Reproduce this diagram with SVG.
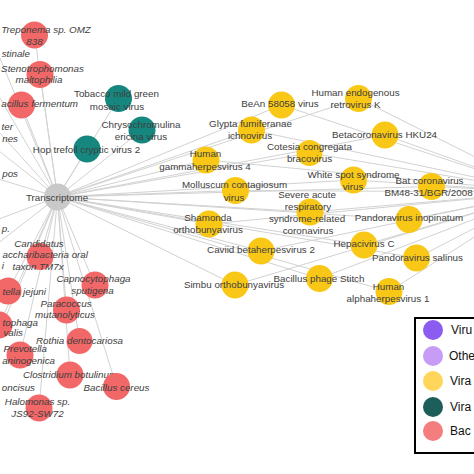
<svg xmlns="http://www.w3.org/2000/svg" width="474" height="474" viewBox="0 0 474 474">
<style>
.e{stroke:#d2d2d2;stroke-width:1;fill:none}
.t{font-family:"Liberation Sans",Arial,sans-serif;font-size:9.8px;fill:#404040;text-anchor:middle}
.i{font-style:italic}
.en{text-anchor:end}
.r{fill:#F26767}
.y{fill:#F9C816}
.g{fill:#15877F}
.lg{font-family:"Liberation Sans",Arial,sans-serif;font-size:12px;fill:#111}
</style>
<rect width="474" height="474" fill="#fff"/>
<g id="edges">
<path class="e" d="M57.5 197L34.5 35M57.5 197L40 74.5M57.5 197L21.5 105M57.5 197L118.5 98.5M57.5 197L142 130M57.5 197L87 149M57.5 197L40 256.5M57.5 197L95 285M57.5 197L8 291M57.5 197L66.5 310M57.5 197L-1 325M57.5 197L20 355M57.5 197L79.5 341M57.5 197L70 375M57.5 197L116.5 386.5M57.5 197L39 408M57.5 197L-25 55M57.5 197L-20 136M57.5 197L-25 172M57.5 197L-25 228M57.5 197L-30 265M57.5 197L-25 388M57.5 197L-20 10M57.5 197L-30 100"/>
<path class="e" d="M57.5 197L281.5 105M57.5 197L251.5 130M57.5 197L206 160M57.5 197L309.5 153M57.5 197L235.5 190.5M57.5 197L310 212M57.5 197L358.5 98.5M57.5 197L385 135M57.5 197L353.5 180M57.5 197L431.5 186.5M57.5 197L409 219.5M57.5 197L364 245M57.5 197L416.5 258M57.5 197L319.5 278.5M57.5 197L389 291.5M57.5 197L209 224M57.5 197L261 251M57.5 197L235 285"/>
<path class="e" d="M545 192L281.5 105M545 192L251.5 130M545 192L206 160M545 192L309.5 153M545 192L235.5 190.5M545 192L310 212M545 192L358.5 98.5M545 192L385 135M545 192L353.5 180M545 192L431.5 186.5M545 192L409 219.5M545 192L364 245M545 192L416.5 258M545 192L319.5 278.5M545 192L389 291.5M545 192L209 224M545 192L261 251M545 192L235 285"/>
</g>
<g id="n-offscreen-left">
<text class="t i en" x="30" y="57">stinale</text>
<text class="t i en" x="13" y="130">ter</text>
<text class="t i en" x="18" y="142">nes</text>
<text class="t i en" x="18" y="177">pos</text>
<text class="t i en" x="10" y="232">p.</text>
<text class="t i en" x="4" y="269">i</text>
<text class="t i en" x="35" y="391">oncisus</text>
</g>
<g id="n-treponema"><circle class="r" cx="34.5" cy="35" r="13.5"/><text class="t i" x="46" y="33">Treponema sp. OMZ</text><text class="t i" x="34.5" y="45">838</text></g>
<g id="n-stenotrophomonas"><circle class="r" cx="40" cy="74.5" r="13.5"/><text class="t i" x="42.5" y="72">Stenotrophomonas</text><text class="t i" x="39" y="83">maltophilia</text></g>
<g id="n-bacillus-fermentum"><circle class="r" cx="21.5" cy="105" r="13.5"/><text class="t i en" x="78" y="107">acillus fermentum</text></g>
<g id="n-tobacco"><circle class="g" cx="118.5" cy="98.5" r="13.5"/><text class="t" x="116.5" y="97">Tobacco mild green</text><text class="t" x="117" y="110">mosaic virus</text></g>
<g id="n-chrysochromulina"><circle class="g" cx="142" cy="130" r="13.5"/><text class="t" x="141" y="128">Chrysochromulina</text><text class="t" x="141" y="140">ericina virus</text></g>
<g id="n-hop-trefoil"><circle class="g" cx="87" cy="149" r="13.5"/><text class="t" x="86.5" y="153">Hop trefoil cryptic virus 2</text></g>
<g id="n-transcriptome"><circle fill="#C9C9C9" cx="57.5" cy="197" r="13.5"/><text class="t" x="57" y="200.5">Transcriptome</text></g>
<g id="n-candidatus"><circle class="r" cx="40" cy="256.5" r="13.5"/><text class="t i" x="39" y="247">Candidatus</text><text class="t i en" x="88" y="258">accharibacteria oral</text><text class="t i" x="38" y="270">taxon TM7x</text></g>
<g id="n-capnocytophaga"><circle class="r" cx="95" cy="285" r="13.5"/><text class="t i" x="93.5" y="282">Capnocytophaga</text><text class="t i" x="92.5" y="294">sputigena</text></g>
<g id="n-jejuni"><circle class="r" cx="8" cy="291" r="13.5"/><text class="t i en" x="46" y="295">tella jejuni</text></g>
<g id="n-paracoccus"><circle class="r" cx="66.5" cy="310" r="13.5"/><text class="t i" x="66" y="307">Paracoccus</text><text class="t i" x="65" y="318">mutanolyticus</text></g>
<g id="n-tophaga"><circle class="r" cx="-1" cy="325" r="13.5"/><text class="t i en" x="38" y="326">tophaga</text><text class="t i en" x="23" y="336">valis</text></g>
<g id="n-prevotella"><circle class="r" cx="20" cy="355" r="13.5"/><text class="t i en" x="47" y="352">Prevotella</text><text class="t i en" x="55" y="364">aninogenica</text></g>
<g id="n-rothia"><circle class="r" cx="79.5" cy="341" r="13"/><text class="t i" x="79.5" y="344">Rothia dentocariosa</text></g>
<g id="n-clostridium"><circle class="r" cx="70" cy="375" r="13.5"/><text class="t i" x="70" y="378">Clostridium botulinum</text></g>
<g id="n-bacillus-cereus"><circle class="r" cx="116.5" cy="386.5" r="13.5"/><text class="t i" x="116.5" y="391">Bacillus cereus</text></g>
<g id="n-halomonas"><circle class="r" cx="39" cy="408" r="13.5"/><text class="t i" x="37.5" y="405">Halomonas sp.</text><text class="t i" x="37.5" y="417">JS92-SW72</text></g>
<g id="n-bean"><circle class="y" cx="281.5" cy="105" r="13.5"/><text class="t" x="280" y="107">BeAn 58058 virus</text></g>
<g id="n-glypta"><circle class="y" cx="251.5" cy="130" r="13.5"/><text class="t" x="250.5" y="127">Glypta fumiferanae</text><text class="t" x="250" y="139">ichnovirus</text></g>
<g id="n-hgamma"><circle class="y" cx="206" cy="160" r="13.5"/><text class="t" x="205.5" y="157">Human</text><text class="t" x="205" y="170">gammaherpesvirus 4</text></g>
<g id="n-cotesia"><circle class="y" cx="309.5" cy="153" r="13"/><text class="t" x="309.5" y="150">Cotesia congregata</text><text class="t" x="309.5" y="162">bracovirus</text></g>
<g id="n-molluscum"><circle class="y" cx="235.5" cy="190.5" r="13.5"/><text class="t" x="234.5" y="188">Molluscum contagiosum</text><text class="t" x="234" y="201">virus</text></g>
<g id="n-sars"><circle class="y" cx="310" cy="212" r="13.5"/><text class="t" x="307" y="198">Severe acute</text><text class="t" x="308" y="210">respiratory</text><text class="t" x="307" y="222">syndrome-related</text><text class="t" x="308" y="234">coronavirus</text></g>
<g id="n-hervk"><circle class="y" cx="358.5" cy="98.5" r="13.5"/><text class="t" x="355.5" y="96">Human endogenous</text><text class="t" x="355.5" y="108">retrovirus K</text></g>
<g id="n-betacov"><circle class="y" cx="385" cy="135" r="13.5"/><text class="t" x="384.5" y="138">Betacoronavirus HKU24</text></g>
<g id="n-wssv"><circle class="y" cx="353.5" cy="180" r="13.5"/><text class="t" x="353.5" y="178">White spot syndrome</text><text class="t" x="353" y="190">virus</text></g>
<g id="n-batcov"><circle class="y" cx="431.5" cy="186.5" r="13.5"/><text class="t" x="429.5" y="184">Bat coronavirus</text><text class="t" x="428.5" y="196">BM48-31/BGR/2008</text></g>
<g id="n-pandora-inop"><circle class="y" cx="409" cy="219.5" r="13.5"/><text class="t" x="409" y="221">Pandoravirus inopinatum</text></g>
<g id="n-hepc"><circle class="y" cx="364" cy="245" r="13.5"/><text class="t" x="364" y="247">Hepacivirus C</text></g>
<g id="n-pandora-sal"><circle class="y" cx="416.5" cy="258" r="13.5"/><text class="t" x="417.5" y="261">Pandoravirus salinus</text></g>
<g id="n-stitch"><circle class="y" cx="319.5" cy="278.5" r="13.5"/><text class="t" x="319" y="282">Bacillus phage Stitch</text></g>
<g id="n-halpha"><circle class="y" cx="389" cy="291.5" r="13.5"/><text class="t" x="388.5" y="290">Human</text><text class="t" x="388" y="302">alphaherpesvirus 1</text></g>
<g id="n-shamonda"><circle class="y" cx="209" cy="224" r="13.5"/><text class="t" x="208" y="221">Shamonda</text><text class="t" x="208" y="233">orthobunyavirus</text></g>
<g id="n-caviid"><circle class="y" cx="261" cy="251" r="13.5"/><text class="t" x="261" y="253">Caviid betaherpesvirus 2</text></g>
<g id="n-simbu"><circle class="y" cx="235" cy="285" r="13.5"/><text class="t" x="234" y="288">Simbu orthobunyavirus</text></g>
<g id="legend">
<rect x="415" y="318" width="80" height="135" fill="#fff" stroke="#000" stroke-width="2"/>
<circle cx="433" cy="330" r="10" fill="#8C5CF0"/><text class="lg" x="451" y="334">Viru</text>
<circle cx="433" cy="356" r="10" fill="#C79CF6"/><text class="lg" x="449" y="360">Othe</text>
<circle cx="433" cy="381" r="10" fill="#FFD65A"/><text class="lg" x="450" y="385">Vira</text>
<circle cx="433" cy="407" r="10" fill="#1E5E5A"/><text class="lg" x="450" y="411">Vira</text>
<circle cx="433" cy="431" r="10" fill="#F47E7E"/><text class="lg" x="450" y="435">Bac</text>
</g>
</svg>
